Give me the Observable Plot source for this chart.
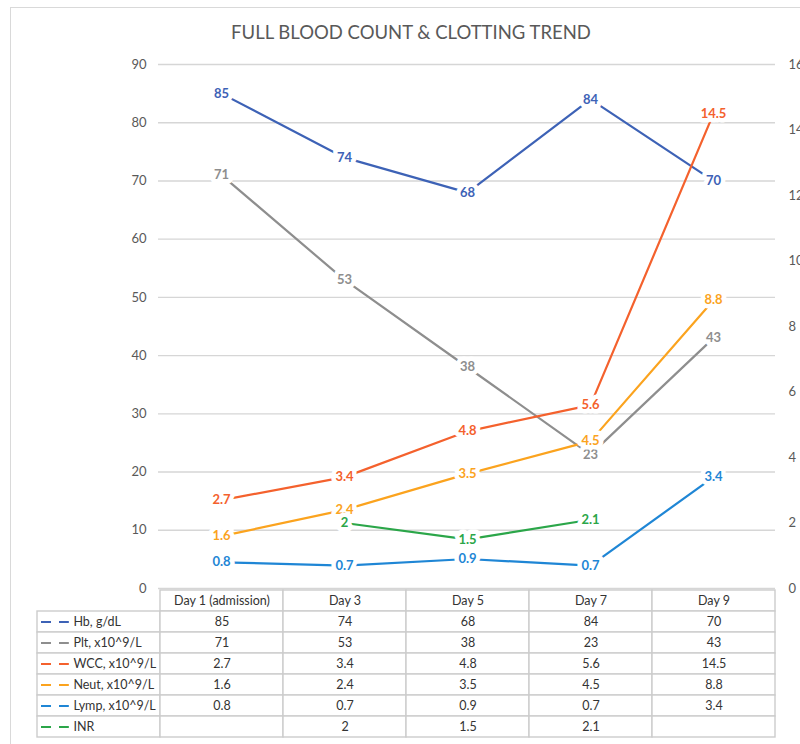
<!DOCTYPE html>
<html><head><meta charset="utf-8">
<script src="https://cdn.jsdelivr.net/npm/d3@7"></script>
<script src="https://cdn.jsdelivr.net/npm/@observablehq/plot@0.6"></script>
<style>
html,body{margin:0;padding:0;background:#fff;overflow:hidden}
#wrap{position:relative;width:800px;height:744px;overflow:hidden;font-family:Lato,"Open Sans",sans-serif}
#frame{position:absolute;left:10px;top:7px;width:900px;height:900px;border:1px solid #d9d9d9;box-sizing:border-box}
#title{position:absolute;left:10px;width:802px;top:21px;text-align:center;font-size:18.5px;color:#595959;font-weight:400}
#chart{position:absolute;left:0;top:0}
#table{position:absolute;left:0;top:580px}
</style></head><body>
<div id="wrap"><div id="frame"></div><div id="title">FULL BLOOD COUNT &amp; CLOTTING TREND</div><div id="chart"></div><div id="table"></div></div>
<script>
const days = ["Day 1 (admission)", "Day 3", "Day 5", "Day 7", "Day 9"];
const seriesNames = ["Hb, g/dL", "Plt, x10^9/L", "WCC, x10^9/L", "Neut, x10^9/L", "Lymp, x10^9/L", "INR"];
const hb = [85, 74, 68, 84, 70];
const plt = [71, 53, 38, 23, 43];
const wcc = [2.7, 3.4, 4.8, 5.6, 14.5];
const neut = [1.6, 2.4, 3.5, 4.5, 8.8];
const lymp = [0.8, 0.7, 0.9, 0.7, 3.4];
const inr = [null, 2, 1.5, 2.1, null];
const onRightAxis = [false, false, true, true, true, true];
const leftTicks = [0, 10, 20, 30, 40, 50, 60, 70, 80, 90];
const rightTicks = [0, 2, 4, 6, 8, 10, 12, 14, 16];
const colors = ["#3D62B6", "#8E8E8E", "#F4612D", "#FBA31E", "#1F86D5", "#2BA649"];

const leftMax = 90, rightMax = 16, k = leftMax / rightMax;
const allValues = [hb, plt, wcc, neut, lymp, inr];
const rows = [];
allValues.forEach((vals, si) => vals.forEach((v, di) => {
  if (v != null) rows.push({series: seriesNames[si], day: days[di], value: v, y: onRightAxis[si] ? v * k : v});
}));

const font = "Lato, 'Open Sans', sans-serif";
const chart = Plot.plot({
  width: 800, height: 600,
  marginTop: 64, marginBottom: 12, marginLeft: 158, marginRight: 25,
  style: {fontFamily: font, background: "transparent", overflow: "visible"},
  x: {type: "point", domain: days, padding: 0.5, axis: null},
  y: {domain: [0, leftMax], axis: null},
  color: {domain: seriesNames, range: colors},
  marks: [
    Plot.gridY(leftTicks, {stroke: "#d6d6d6", strokeOpacity: 1, strokeWidth: 1.4}),
    Plot.axisY(leftTicks, {anchor: "left", tickSize: 0, tickPadding: 12, fontSize: 13, fill: "#595959", label: null}),
    Plot.axisY(rightTicks.map(v => v * k), {anchor: "right", tickSize: 0, tickPadding: 13, fontSize: 13, fill: "#595959", label: null, tickFormat: d => String(Math.round(d / k))}),
    Plot.line(rows, {x: "day", y: "y", z: "series", stroke: "series", strokeWidth: 2.2}),
    Plot.text(rows, {x: "day", y: "y", text: d => String(d.value), fill: "series", stroke: "white", strokeWidth: 9, paintOrder: "stroke", fontWeight: "bold", fontSize: 13})
  ]
});
document.getElementById("chart").appendChild(chart);

// table
const cols = ["", ...days];
const rowKeys = ["header", ...seriesNames];
const cells = [];
days.forEach(d => cells.push({col: d, row: "header"}));
seriesNames.forEach(s => cols.forEach(c => cells.push({col: c, row: s})));
const tableValues = [];
allValues.forEach((vals, si) => vals.forEach((v, di) => {
  if (v != null) tableValues.push({row: seriesNames[si], col: days[di], text: String(v)});
}));
const bw = (800 - 36 - 25) / cols.length;
const table = Plot.plot({
  width: 800, height: 164,
  marginTop: 7, marginBottom: 5, marginLeft: 36, marginRight: 25,
  style: {fontFamily: font, background: "transparent", overflow: "visible"},
  x: {type: "band", domain: cols, padding: 0, axis: null},
  y: {type: "band", domain: rowKeys, padding: 0, axis: null},
  color: {domain: seriesNames, range: colors},
  marks: [
    Plot.cell(cells, {x: "col", y: "row", fill: "white", stroke: "#cccccc", strokeWidth: 1.4}),
    Plot.text(days, {x: d => d, y: () => "header", text: d => d, fontSize: 12.5, fill: "#333"}),
    Plot.text(tableValues, {x: "col", y: "row", text: "text", fontSize: 12.5, fill: "#333"}),
    Plot.tickY(seriesNames, {x: () => "", y: d => d, stroke: d => d, strokeWidth: 2, strokeDasharray: "10,8", insetLeft: 4, insetRight: bw - 32}),
    Plot.text(seriesNames, {x: () => "", y: d => d, text: d => d, textAnchor: "start", dx: -bw / 2 + 36, fontSize: 12.5, fill: "#333"})
  ]
});
document.getElementById("table").appendChild(table);
</script>
</body></html>
